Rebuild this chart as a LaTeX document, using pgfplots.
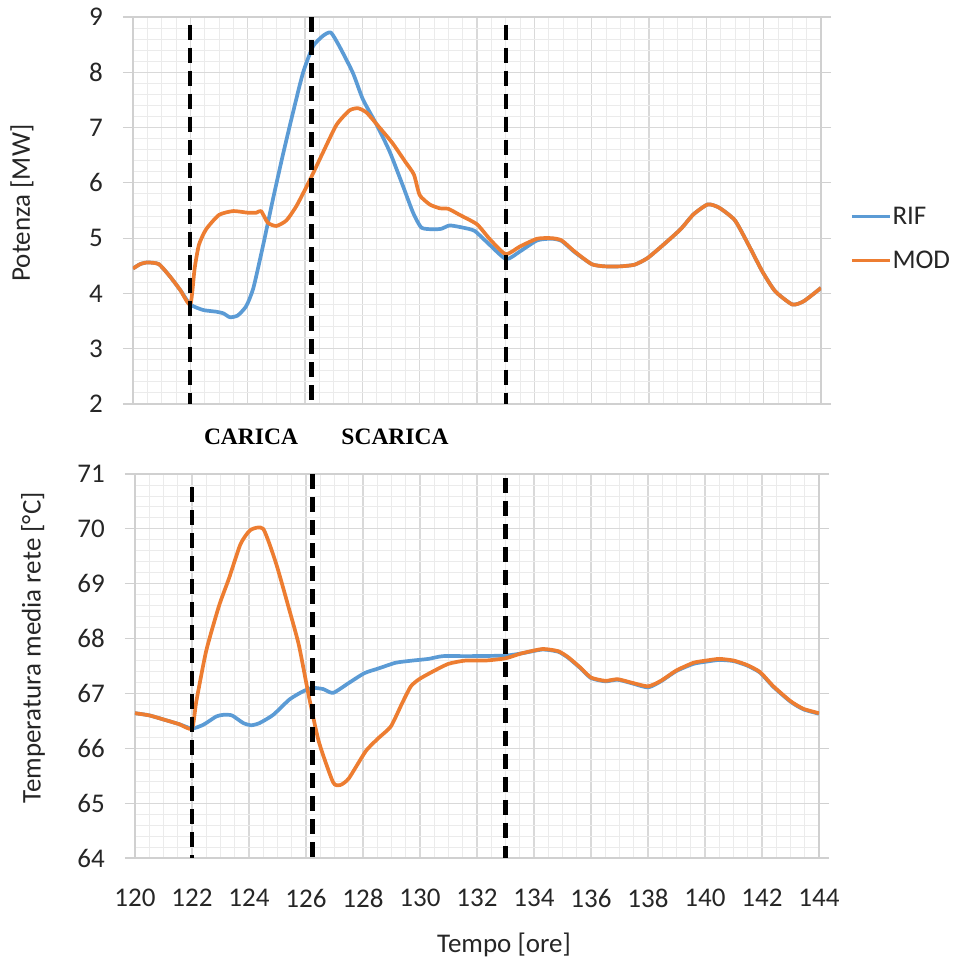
\documentclass[border=0pt]{standalone}
\usepackage{pgfplots}
\pgfplotsset{compat=1.18}
\usepackage{pgfplotstable}
\usepackage{fontspec}
\setmainfont{Carlito}
\newfontfamily\phasefont{Liberation Serif}

\definecolor{rif}{HTML}{5B9BD5}
\definecolor{mod}{HTML}{ED7D31}
\definecolor{majgrid}{HTML}{D9D9D9}
\definecolor{mingrid}{HTML}{EBEBEB}
\definecolor{frame}{HTML}{D0D0D0}

% Potenza [MW], riferimento
\pgfplotstableread{
t P
120.0 4.45
120.25 4.53
120.5 4.56
120.9 4.53
121.3 4.30
121.65 4.06
122.0 3.80
122.45 3.70
122.9 3.67
123.15 3.64
123.38 3.57
123.65 3.60
123.95 3.77
124.2 4.10
124.53 4.85
124.88 5.70
125.23 6.51
125.58 7.27
125.93 7.99
126.28 8.47
126.63 8.66
126.9 8.72
127.2 8.47
127.67 7.99
128.02 7.51
128.49 7.06
128.95 6.57
129.42 5.94
129.77 5.46
130.06 5.19
130.47 5.16
130.76 5.17
131.05 5.23
131.51 5.19
131.92 5.13
132.44 4.88
133.02 4.62
133.5 4.76
134.1 4.96
134.6 4.99
134.95 4.95
135.4 4.75
136.0 4.53
136.45 4.49
137.0 4.49
137.5 4.52
137.95 4.64
138.5 4.88
139.1 5.16
139.55 5.43
140.05 5.61
140.45 5.55
141.0 5.32
141.5 4.85
141.95 4.40
142.4 4.04
143.0 3.80
143.4 3.86
144.0 4.10
}\potRIF

% Potenza [MW], modificato
\pgfplotstableread{
t P
120.0 4.45
120.25 4.53
120.5 4.56
120.9 4.53
121.3 4.30
121.65 4.06
122.0 3.80
122.15 4.45
122.3 4.88
122.55 5.16
123.0 5.42
123.5 5.49
124.0 5.46
124.3 5.46
124.47 5.49
124.7 5.28
125.0 5.22
125.35 5.32
125.7 5.58
126.15 6.03
126.6 6.52
127.1 7.05
127.55 7.31
127.85 7.35
128.15 7.27
128.6 7.00
129.05 6.72
129.5 6.38
129.8 6.15
130.0 5.78
130.35 5.61
130.7 5.54
131.0 5.53
131.4 5.42
132.0 5.25
132.45 4.98
133.0 4.71
133.5 4.85
134.1 4.99
134.6 5.00
134.95 4.96
135.4 4.76
136.0 4.53
136.45 4.49
137.0 4.49
137.5 4.52
137.95 4.64
138.5 4.88
139.1 5.16
139.55 5.43
140.05 5.61
140.45 5.55
141.0 5.32
141.5 4.85
141.95 4.40
142.4 4.04
143.0 3.80
143.4 3.86
144.0 4.10
}\potMOD

% Temperatura media rete [C], riferimento
\pgfplotstableread{
t T
120.0 66.64
120.5 66.60
121.1 66.51
121.55 66.44
122.0 66.36
122.4 66.43
122.85 66.58
123.1 66.61
123.4 66.60
123.8 66.46
124.08 66.42
124.37 66.46
124.85 66.61
125.42 66.89
125.9 67.04
126.24 67.10
126.6 67.08
126.95 67.01
127.5 67.19
128.05 67.37
128.57 67.46
129.15 67.56
129.75 67.60
130.3 67.63
130.8 67.68
131.7 67.68
133.0 67.69
133.56 67.73
134.3 67.80
134.85 67.76
135.2 67.65
135.65 67.45
136.0 67.28
136.5 67.22
136.93 67.25
137.4 67.19
138.0 67.11
138.45 67.22
139.0 67.41
139.6 67.54
140.05 67.58
140.5 67.61
141.0 67.59
141.47 67.51
141.93 67.38
142.4 67.12
143.0 66.85
143.45 66.71
144.0 66.63
}\tempRIF

% Temperatura media rete [C], modificato
\pgfplotstableread{
t T
120.0 66.64
120.5 66.60
121.1 66.51
121.55 66.44
122.0 66.36
122.15 66.85
122.5 67.78
122.95 68.60
123.3 69.10
123.7 69.72
124.05 69.98
124.5 70.00
124.95 69.37
125.4 68.55
125.75 67.88
126.1 66.95
126.45 66.12
126.95 65.38
127.2 65.33
127.5 65.45
128.1 65.95
128.55 66.19
128.98 66.40
129.38 66.83
129.68 67.13
129.97 67.26
130.45 67.40
131.0 67.54
131.6 67.60
132.3 67.60
133.0 67.64
133.56 67.73
134.3 67.81
134.85 67.77
135.2 67.66
135.65 67.46
136.0 67.29
136.5 67.23
136.93 67.26
137.4 67.20
138.0 67.13
138.45 67.23
139.0 67.42
139.6 67.56
140.05 67.60
140.5 67.63
141.0 67.60
141.47 67.52
141.93 67.39
142.4 67.13
143.0 66.86
143.45 66.72
144.0 66.64
}\tempMOD

\tikzset{
  phase/.style={black, line width=4.2pt, dash pattern=on 15pt off 8pt},
}
\newcommand{\chartfont}{\fontsize{27}{32}\selectfont}
\pgfplotsset{
  panel/.style={
    scale only axis,
    xmin=120, xmax=144,
    xtick={120,122,...,144},
    minor x tick num=3,
    grid=both,
    major grid style={draw=majgrid, line width=1.2pt},
    minor grid style={draw=mingrid, line width=0.9pt},
    axis line style={draw=frame, line width=1.2pt},
    tick style={draw=frame, line width=1.2pt},
    major x tick style={draw=none},
    minor tick style={draw=none},
    tick align=outside,
    major tick length=10pt,
    /pgf/number format/assume math mode=true,
    ticklabel style={font=\chartfont, text=black!85},
    yticklabel style={inner sep=0pt, anchor=east, xshift=-20pt},
    xticklabel style={inner sep=0pt, anchor=north, yshift=-21pt},
  },
  series/.style={line width=3.7pt, line join=round, smooth, tension=0.35, no markers},
}

\begin{document}
\begin{tikzpicture}[x=1pt, y=1pt]
\path[use as bounding box] (0,0) rectangle (957,-961);

% Potenza
\begin{axis}[panel,
  at={(133pt,-17pt)}, anchor=north west,
  width=688pt, height=387pt,
  ymin=2, ymax=9, ytick={2,...,9}, minor y tick num=4,
  xticklabels={},
  ylabel={Potenza [MW]},
  every axis y label/.style={at={(axis description cs:-0.1613,0.519)}, rotate=90, anchor=center, font=\chartfont, text=black!85},
  legend style={draw=none, fill=none, at={(1.042,0.514)}, anchor=north west,
    font=\chartfont, text=black!85, row sep=21pt,
    inner xsep=0pt, inner ysep=0pt, nodes={inner xsep=1pt}},
  legend cell align=left,
  legend image code/.code={\draw[#1, line width=3.4pt] (0pt,0pt) -- (38pt,0pt);},
]
\addplot[series, rif] table[x=t, y=P] {\potRIF};
\addlegendentry{RIF}
\addplot[series, mod] table[x=t, y=P] {\potMOD};
\addlegendentry{MOD}
\draw[phase] (axis cs:122,8.86) -- (axis cs:122,2);
\draw[phase] (axis cs:126.23,9) -- (axis cs:126.23,2);
\draw[phase] (axis cs:133,8.86) -- (axis cs:133,2);
\end{axis}

\node[font=\phasefont\bfseries\fontsize{23.5}{28}\selectfont] at (251,-437) {CARICA};
\node[font=\phasefont\bfseries\fontsize{23.5}{28}\selectfont] at (395,-437) {SCARICA};

% Temperatura media rete
\begin{axis}[panel,
  at={(135pt,-474pt)}, anchor=north west,
  width=684pt, height=384pt,
  ymin=64, ymax=71, ytick={64,...,71}, minor y tick num=4,
  ylabel={Temperatura media rete [°C]},
  every axis y label/.style={at={(axis description cs:-0.149,0.547)}, rotate=90, anchor=center, font=\chartfont, text=black!85},
  xlabel={Tempo [ore]},
  every axis x label/.style={at={(axis description cs:0.5395,-0.2448)}, anchor=base, font=\chartfont, text=black!85},
]
\addplot[series, rif] table[x=t, y=T] {\tempRIF};
\addplot[series, mod] table[x=t, y=T] {\tempMOD};
\draw[phase] (axis cs:122,70.76) -- (axis cs:122,64);
\draw[phase] (axis cs:126.23,71) -- (axis cs:126.23,64);
\draw[phase] (axis cs:133,70.93) -- (axis cs:133,64);
\end{axis}
\end{tikzpicture}
\end{document}
